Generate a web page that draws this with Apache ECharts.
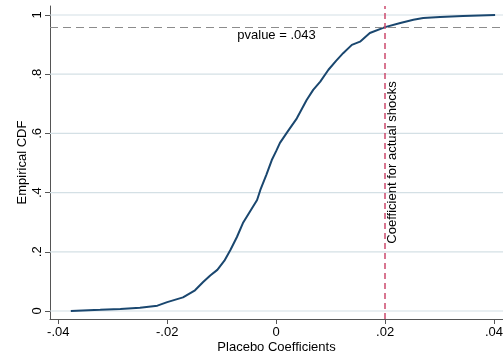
<!DOCTYPE html>
<html>
<head>
<meta charset="utf-8">
<script src="https://cdn.jsdelivr.net/npm/echarts@6/dist/echarts.min.js"></script>
<style>
  html, body { margin: 0; padding: 0; background: #ffffff; }
  #chart { width: 503px; height: 358px; }
</style>
</head>
<body>
<div id="chart"></div>
<script>
// Empirical CDF of placebo coefficients
const ecdfX = [-0.0377, -0.0323, -0.0286, -0.025, -0.0218, -0.02, -0.0171, -0.0149, -0.0134, -0.0121,
  -0.0108, -0.0095, -0.0084, -0.0072, -0.0061, -0.0048, -0.0035, -0.0029, -0.0018, -0.0008,
  0, 0.0007, 0.0021, 0.0038, 0.0056, 0.0068, 0.0081, 0.0096, 0.011, 0.0123,
  0.0139, 0.0154, 0.0172, 0.02, 0.0228, 0.0252, 0.027, 0.0301, 0.0343, 0.0402];
const ecdfY = [0, 0.004, 0.007, 0.011, 0.018, 0.03, 0.046, 0.07, 0.098, 0.12,
  0.139, 0.17, 0.206, 0.25, 0.297, 0.336, 0.375, 0.409, 0.46, 0.51,
  0.54, 0.568, 0.606, 0.651, 0.713, 0.747, 0.775, 0.815, 0.845, 0.871,
  0.899, 0.91, 0.939, 0.959, 0.973, 0.984, 0.99, 0.993, 0.997, 1.0];

const xTicks = [-0.04, -0.02, 0, 0.02, 0.04];
const yTicks = [0, 0.2, 0.4, 0.6, 0.8, 1];
const actualCoef = 0.02;
const pValue = 0.043;

const X_MIN = -0.04152, X_MAX = 0.04165;
const Y_MIN = -0.027, Y_MAX = 1.0304;

// Stata-style tick labels: drop the leading zero
function stataFmt(v) {
  if (Math.abs(v) < 1e-12) return '0';
  let s = String(+v.toFixed(4));
  return s.replace(/^(-?)0\./, '$1.');
}

const FONT = '"Liberation Sans", Arial, sans-serif';
const chart = echarts.init(document.getElementById('chart'));

// light horizontal gridlines spanning the plot at each labelled y value
const gridSeries = yTicks.map(v => ({
  type: 'line',
  data: [[X_MIN, v], [X_MAX, v]],
  showSymbol: false,
  symbol: 'none',
  silent: true,
  lineStyle: { color: '#d4e0e5', width: 1.2 },
  z: 1
}));

chart.setOption({
  animation: false,
  grid: { left: 50, right: 0, top: 6, bottom: 39, outerBoundsMode: 'none', containLabel: false },
  xAxis: {
    type: 'value',
    min: X_MIN,
    max: X_MAX,
    name: 'Placebo Coefficients',
    nameLocation: 'middle',
    nameGap: 22,
    nameMoveOverlap: false,
    nameTextStyle: { fontFamily: FONT, fontSize: 13, color: '#000' },
    axisLine: { show: true, onZero: false, lineStyle: { color: '#555', width: 1 } },
    axisTick: { show: true, length: 5, customValues: xTicks, lineStyle: { color: '#555' } },
    axisLabel: {
      customValues: xTicks,
      formatter: stataFmt,
      margin: 7,
      fontFamily: FONT, fontSize: 13, color: '#000'
    },
    splitLine: { show: false }
  },
  yAxis: {
    type: 'value',
    min: Y_MIN,
    max: Y_MAX,
    name: 'Empirical CDF',
    nameLocation: 'middle',
    nameGap: 21,
    nameMoveOverlap: false,
    nameTextStyle: { fontFamily: FONT, fontSize: 13, color: '#000' },
    axisLine: { show: true, onZero: false, lineStyle: { color: '#555', width: 1 } },
    axisTick: { show: true, length: 5, customValues: yTicks, lineStyle: { color: '#555' } },
    axisLabel: {
      customValues: yTicks,
      formatter: stataFmt,
      rotate: 90,
      margin: 6,
      fontFamily: FONT, fontSize: 13, color: '#000'
    },
    splitLine: { show: false }
  },
  series: gridSeries.concat([
    {
      type: 'line',
      data: ecdfX.map((x, i) => [x, ecdfY[i]]),
      showSymbol: false,
      symbol: 'none',
      lineStyle: { color: '#1a476f', width: 2 },
      z: 3
    },
    {
      // p-value reference line and actual coefficient marker
      type: 'line',
      data: [],
      silent: true,
      markLine: {
        silent: true,
        symbol: 'none',
        data: [
          {
            yAxis: 1 - pValue,
            lineStyle: { type: [8, 5], color: '#8c8c8c', width: 1.2 },
            label: {
              show: true,
              position: 'insideMiddleBottom',
              formatter: 'pvalue = ' + stataFmt(pValue),
              distance: 2,
              fontFamily: FONT, fontSize: 13, color: '#000'
            }
          },
          {
            xAxis: actualCoef,
            lineStyle: { type: [6, 4], color: '#cc4a6e', width: 1.5 },
            label: {
              show: true,
              position: 'insideMiddleBottom',
              formatter: 'Coefficient for actual shocks',
              distance: 1,
              fontFamily: FONT, fontSize: 13, color: '#000'
            }
          }
        ]
      },
      z: 4
    }
  ])
});
</script>
</body>
</html>
